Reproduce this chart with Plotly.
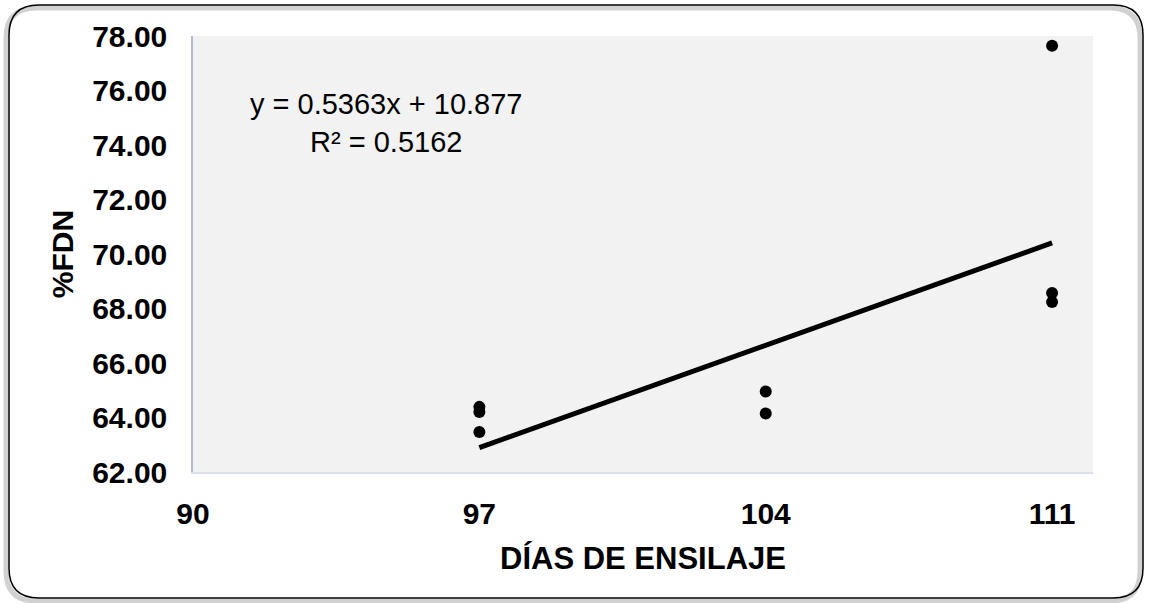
import plotly.graph_objects as go

# Data
dias = [97, 97, 97, 104, 104, 111, 111, 111]
fdn = [64.39, 64.20, 63.47, 64.95, 64.15, 77.64, 68.57, 68.24]
slope = 0.5363
intercept = 10.877
r2 = 0.5162
x_ticks = [90, 97, 104, 111]

W, H = 1149, 603
# plot area in window pixels
L, R, T, B = 193, 1093, 36, 472


def px(x):
    return (x - L) / (R - L)


def py(y):
    return (B - y) / (B - T)


def rounded_path(x0, y0, x1, y1, r, dx=0, dy=0):
    x0 += dx; x1 += dx; y0 += dy; y1 += dy
    pts = [
        f"M {px(x0 + r)} {py(y0)}",
        f"L {px(x1 - r)} {py(y0)}",
        f"Q {px(x1)} {py(y0)} {px(x1)} {py(y0 + r)}",
        f"L {px(x1)} {py(y1 - r)}",
        f"Q {px(x1)} {py(y1)} {px(x1 - r)} {py(y1)}",
        f"L {px(x0 + r)} {py(y1)}",
        f"Q {px(x0)} {py(y1)} {px(x0)} {py(y1 - r)}",
        f"L {px(x0)} {py(y0 + r)}",
        f"Q {px(x0)} {py(y0)} {px(x0 + r)} {py(y0)}",
        "Z",
    ]
    return " ".join(pts)


tx = [min(dias), max(dias)]
ty = [slope * v + intercept for v in tx]

fig = go.Figure()
fig.add_trace(go.Scatter(x=tx, y=ty, mode="lines",
                         line=dict(color="black", width=5),
                         hoverinfo="skip", showlegend=False))
fig.add_trace(go.Scatter(x=dias, y=fdn, mode="markers",
                         marker=dict(color="black", size=12),
                         showlegend=False))

font_family = "Liberation Sans, Arial, sans-serif"

fig.update_layout(
    width=W, height=H,
    margin=dict(l=L, r=W - R, t=T, b=H - B),
    paper_bgcolor="white",
    plot_bgcolor="#f2f2f2",
    font=dict(family=font_family, color="black"),
    xaxis=dict(range=[90, 112], tickmode="array", tickvals=x_ticks,
               ticktext=[str(v) for v in x_ticks],
               showgrid=False, zeroline=False, showline=True,
               linecolor="#d9e1ea", linewidth=1.5, ticks="",
               tickfont=dict(size=30, family=font_family, color="black", weight="bold"),
               ticklabelstandoff=14,
               title=dict(text="<b>DÍAS DE ENSILAJE</b>",
                          font=dict(size=31, family=font_family, color="black"),
                          standoff=19)),
    yaxis=dict(range=[62, 78], dtick=2, tick0=62, tickformat=".2f",
               showgrid=False, zeroline=False, showline=True,
               linecolor="#aebbd0", linewidth=1.5, ticks="",
               tickfont=dict(size=30, family=font_family, color="black", weight="bold"),
               ticklabelstandoff=18,
               title=dict(text="<b>%FDN</b>",
                          font=dict(size=30, family=font_family, color="black"),
                          standoff=10)),
    annotations=[dict(
        x=px(386), y=py(123), xref="paper", yref="paper",
        xanchor="center", yanchor="middle",
        text=f"y = {slope}x + {intercept}<br>R² = {r2}",
        showarrow=False, align="center",
        font=dict(size=29, family=font_family, color="black"))],
    shapes=[
        dict(type="path", xref="paper", yref="paper", layer="below",
             path=rounded_path(9, 5, 1143, 598, 30, dx=-3, dy=3),
             line=dict(color="rgba(0,0,0,0.18)", width=5)),
        dict(type="path", xref="paper", yref="paper", layer="above",
             path=rounded_path(9, 5, 1143, 598, 30),
             line=dict(color="black", width=1.5)),
    ],
)

fig.write_html("out.html", config={"displayModeBar": False},
               post_script="document.body.style.margin='0px';")
